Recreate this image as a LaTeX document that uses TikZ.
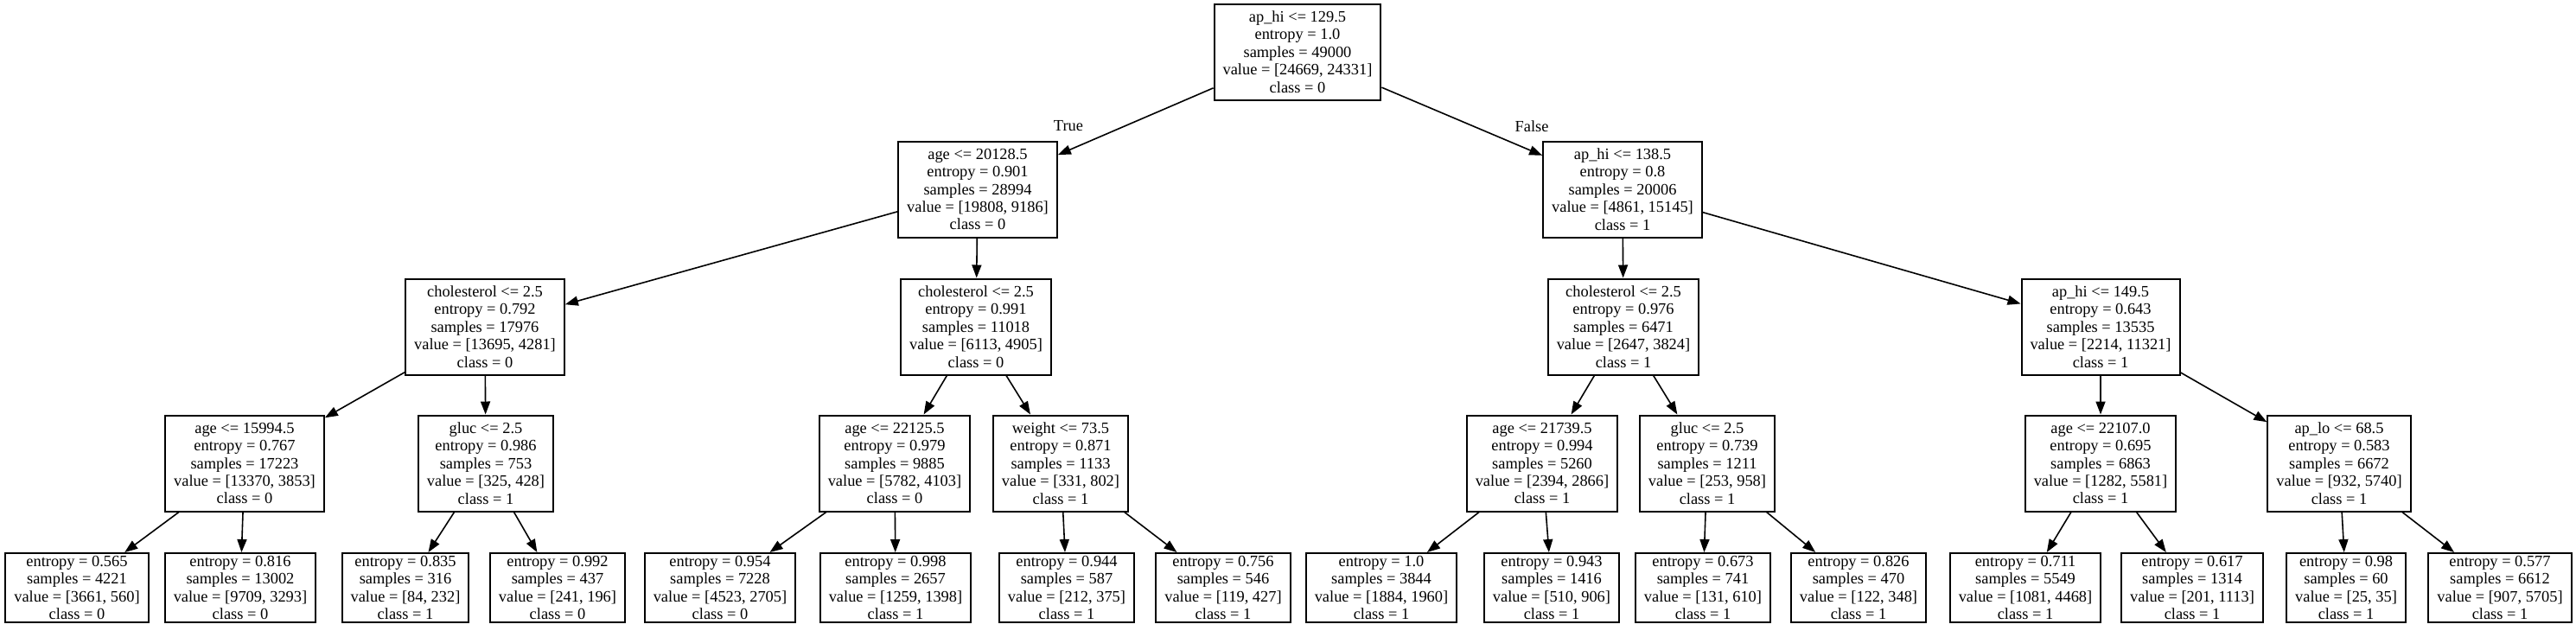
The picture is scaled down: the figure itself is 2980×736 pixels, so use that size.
\documentclass[tikz,border=0pt]{standalone}
\usepackage{fontspec}
\setmainfont{Liberation Serif}
\usetikzlibrary{arrows.meta}

\tikzset{
  splitbox/.style={draw, line width=1pt, align=center, inner xsep=5pt, inner ysep=0pt, minimum height=55.5pt, font=\fontsize{9.2}{10.2}\selectfont},
  leafbox/.style={draw, line width=1pt, align=center, inner xsep=5pt, inner ysep=0pt, minimum height=40pt, font=\fontsize{9.2}{10.2}\selectfont},
  edgeline/.style={line width=0.8pt, -{Triangle[length=7.5pt,width=5.5pt]}},
  edgetag/.style={font=\fontsize{9.2}{10.2}\selectfont, inner sep=0pt}
}

\begin{document}
\begin{tikzpicture}[x=0.5pt, y=-0.5pt]
\useasboundingbox (0,0) rectangle (2980,736);

\node[splitbox] (root) at (1501,60) {ap\_hi <= 129.5\\entropy = 1.0\\samples = 49000\\value = [24669, 24331]\\class = 0};

\node[splitbox] (ageA) at (1131,219) {age <= 20128.5\\entropy = 0.901\\samples = 28994\\value = [19808, 9186]\\class = 0};
\node[splitbox] (apB) at (1877,219) {ap\_hi <= 138.5\\entropy = 0.8\\samples = 20006\\value = [4861, 15145]\\class = 1};

\node[splitbox] (cholA) at (561,378) {cholesterol <= 2.5\\entropy = 0.792\\samples = 17976\\value = [13695, 4281]\\class = 0};
\node[splitbox] (cholB) at (1129,378) {cholesterol <= 2.5\\entropy = 0.991\\samples = 11018\\value = [6113, 4905]\\class = 0};
\node[splitbox] (cholC) at (1878,378) {cholesterol <= 2.5\\entropy = 0.976\\samples = 6471\\value = [2647, 3824]\\class = 1};
\node[splitbox] (apC) at (2430,378) {ap\_hi <= 149.5\\entropy = 0.643\\samples = 13535\\value = [2214, 11321]\\class = 1};

\node[splitbox] (ageB) at (283,536) {age <= 15994.5\\entropy = 0.767\\samples = 17223\\value = [13370, 3853]\\class = 0};
\node[splitbox] (glucA) at (562,536) {gluc <= 2.5\\entropy = 0.986\\samples = 753\\value = [325, 428]\\class = 1};
\node[splitbox] (ageC) at (1035,536) {age <= 22125.5\\entropy = 0.979\\samples = 9885\\value = [5782, 4103]\\class = 0};
\node[splitbox] (wt) at (1227,536) {weight <= 73.5\\entropy = 0.871\\samples = 1133\\value = [331, 802]\\class = 1};
\node[splitbox] (ageD) at (1784,536) {age <= 21739.5\\entropy = 0.994\\samples = 5260\\value = [2394, 2866]\\class = 1};
\node[splitbox] (glucB) at (1975,536) {gluc <= 2.5\\entropy = 0.739\\samples = 1211\\value = [253, 958]\\class = 1};
\node[splitbox] (ageE) at (2430,536) {age <= 22107.0\\entropy = 0.695\\samples = 6863\\value = [1282, 5581]\\class = 1};
\node[splitbox] (apLo) at (2706,536) {ap\_lo <= 68.5\\entropy = 0.583\\samples = 6672\\value = [932, 5740]\\class = 1};

\node[leafbox] (l1) at (89,680) {entropy = 0.565\\samples = 4221\\value = [3661, 560]\\class = 0};
\node[leafbox] (l2) at (278,680) {entropy = 0.816\\samples = 13002\\value = [9709, 3293]\\class = 0};
\node[leafbox] (l3) at (469,680) {entropy = 0.835\\samples = 316\\value = [84, 232]\\class = 1};
\node[leafbox] (l4) at (645,680) {entropy = 0.992\\samples = 437\\value = [241, 196]\\class = 0};
\node[leafbox] (l5) at (833,680) {entropy = 0.954\\samples = 7228\\value = [4523, 2705]\\class = 0};
\node[leafbox] (l6) at (1036,680) {entropy = 0.998\\samples = 2657\\value = [1259, 1398]\\class = 1};
\node[leafbox] (l7) at (1234,680) {entropy = 0.944\\samples = 587\\value = [212, 375]\\class = 1};
\node[leafbox] (l8) at (1415,680) {entropy = 0.756\\samples = 546\\value = [119, 427]\\class = 1};
\node[leafbox] (l9) at (1598,680) {entropy = 1.0\\samples = 3844\\value = [1884, 1960]\\class = 1};
\node[leafbox] (l10) at (1795,680) {entropy = 0.943\\samples = 1416\\value = [510, 906]\\class = 1};
\node[leafbox] (l11) at (1970,680) {entropy = 0.673\\samples = 741\\value = [131, 610]\\class = 1};
\node[leafbox] (l12) at (2150,680) {entropy = 0.826\\samples = 470\\value = [122, 348]\\class = 1};
\node[leafbox] (l13) at (2343,680) {entropy = 0.711\\samples = 5549\\value = [1081, 4468]\\class = 1};
\node[leafbox] (l14) at (2536,680) {entropy = 0.617\\samples = 1314\\value = [201, 1113]\\class = 1};
\node[leafbox] (l15) at (2714,680) {entropy = 0.98\\samples = 60\\value = [25, 35]\\class = 1};
\node[leafbox] (l16) at (2892,680) {entropy = 0.577\\samples = 6612\\value = [907, 5705]\\class = 1};

\node[edgetag] (tTrue) at (1236,146) {True};
\node[edgetag] (tFalse) at (1772,146) {False};

\foreach \a/\b in {root/ageA, root/apB, ageA/cholA, ageA/cholB, apB/cholC, apB/apC,
  cholA/ageB, cholA/glucA, cholB/ageC, cholB/wt, cholC/ageD, cholC/glucB, apC/ageE, apC/apLo,
  ageB/l1, ageB/l2, glucA/l3, glucA/l4, ageC/l5, ageC/l6, wt/l7, wt/l8,
  ageD/l9, ageD/l10, glucB/l11, glucB/l12, ageE/l13, ageE/l14, apLo/l15, apLo/l16}
{
  \draw[edgeline] (\a) -- (\b);
}
\end{tikzpicture}
\end{document}
